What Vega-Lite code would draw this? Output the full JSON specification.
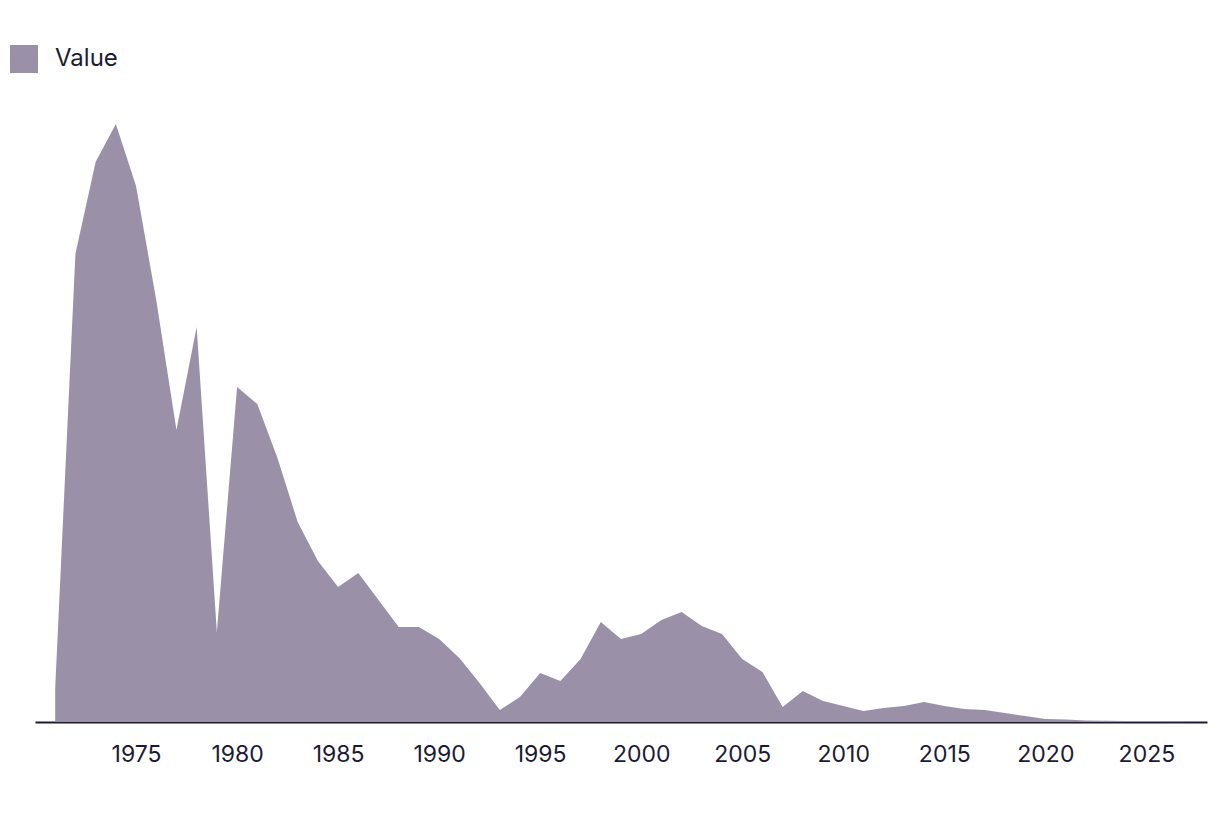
{
  "$schema": "https://vega.github.io/schema/vega-lite/v6.json",
  "width": 1172,
  "height": 622,
  "autosize": {"type": "none"},
  "padding": {"left": 35, "top": 100, "right": 13, "bottom": 92},
  "background": "white",
  "config": {"view": {"stroke": null}, "font": "Inter"},
  "data": {"values": [
    {"year": 1971, "value": 34},
    {"year": 1972, "value": 468},
    {"year": 1973, "value": 560},
    {"year": 1974, "value": 598},
    {"year": 1975, "value": 536},
    {"year": 1976, "value": 422},
    {"year": 1977, "value": 292},
    {"year": 1978, "value": 395},
    {"year": 1979, "value": 90},
    {"year": 1980, "value": 335},
    {"year": 1981, "value": 318},
    {"year": 1982, "value": 264},
    {"year": 1983, "value": 200},
    {"year": 1984, "value": 161},
    {"year": 1985, "value": 135},
    {"year": 1986, "value": 149},
    {"year": 1987, "value": 122},
    {"year": 1988, "value": 95},
    {"year": 1989, "value": 95},
    {"year": 1990, "value": 83},
    {"year": 1991, "value": 64},
    {"year": 1992, "value": 39},
    {"year": 1993, "value": 12},
    {"year": 1994, "value": 25},
    {"year": 1995, "value": 49},
    {"year": 1996, "value": 41},
    {"year": 1997, "value": 63},
    {"year": 1998, "value": 100},
    {"year": 1999, "value": 83},
    {"year": 2000, "value": 88},
    {"year": 2001, "value": 102},
    {"year": 2002, "value": 110},
    {"year": 2003, "value": 96},
    {"year": 2004, "value": 88},
    {"year": 2005, "value": 63},
    {"year": 2006, "value": 50},
    {"year": 2007, "value": 15},
    {"year": 2008, "value": 31},
    {"year": 2009, "value": 21},
    {"year": 2010, "value": 16},
    {"year": 2011, "value": 11},
    {"year": 2012, "value": 14},
    {"year": 2013, "value": 16},
    {"year": 2014, "value": 20},
    {"year": 2015, "value": 16},
    {"year": 2016, "value": 13},
    {"year": 2017, "value": 12},
    {"year": 2018, "value": 9},
    {"year": 2019, "value": 6},
    {"year": 2020, "value": 3},
    {"year": 2021, "value": 2.4},
    {"year": 2022, "value": 1.5},
    {"year": 2023, "value": 1.2},
    {"year": 2024, "value": 1.1},
    {"year": 2025, "value": 1.0},
    {"year": 2026, "value": 0.8},
    {"year": 2027, "value": 0.5}
  ]},
  "mark": {"type": "area", "opacity": 1},
  "encoding": {
    "x": {
      "field": "year", "type": "quantitative",
      "scale": {"domain": [1970, 2028], "nice": false, "zero": false},
      "axis": {
        "title": null, "grid": false, "ticks": false,
        "values": [1975, 1980, 1985, 1990, 1995, 2000, 2005, 2010, 2015, 2020, 2025],
        "format": "d", "labelFontSize": 23, "labelColor": "#1c1b33",
        "labelPadding": 21, "domainColor": "#1c1b33", "domainWidth": 2,
        "labelFont": "Inter"
      }
    },
    "y": {
      "field": "value", "type": "quantitative",
      "scale": {"domain": [0, 622], "nice": false},
      "axis": null
    },
    "color": {
      "datum": "Value",
      "type": "nominal",
      "scale": {"range": ["#9a91a9"]},
      "legend": {
        "title": null, "orient": "none", "legendX": -25, "legendY": -55,
        "symbolType": "square", "symbolSize": 784, "symbolStrokeWidth": 0,
        "symbolOpacity": 1, "labelFontSize": 24, "labelColor": "#1c1b33",
        "labelFont": "Inter", "labelOffset": 17
      }
    }
  }
}
